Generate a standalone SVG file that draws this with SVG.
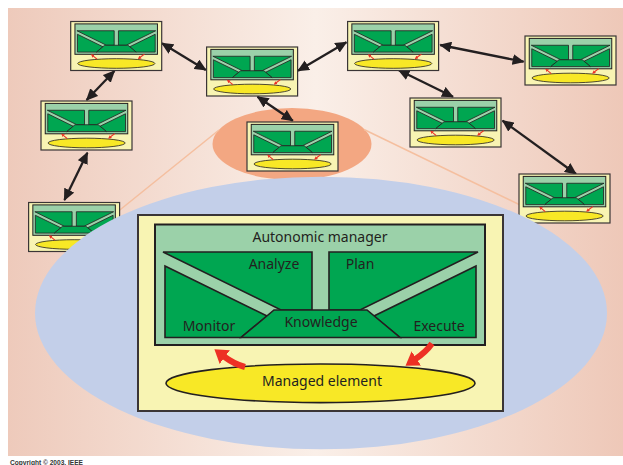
<svg xmlns="http://www.w3.org/2000/svg" width="623" height="465" viewBox="0 0 623 465">
<style>
.frame{fill:#f8f4b3;stroke:#3a3536;stroke-width:1.2}
.mgr{fill:#9bd1a9;stroke:#231f20;stroke-width:1}
.part{fill:#00a651;stroke:#231f20;stroke-width:0.8}
.me{fill:#f8e826;stroke:#231f20;stroke-width:0.8}
.rs{fill:none;stroke:#ed3024;stroke-width:1.1}
.big .frame{stroke-width:2}
.big .mgr{stroke-width:2}
.big .part{stroke-width:1.6}
.big .me{stroke-width:1.6}
.conn{fill:none;stroke:#231f20;stroke-width:2.3;marker-start:url(#ah);marker-end:url(#ah)}
.red{fill:none;stroke:#ed3024;stroke-width:6;marker-end:url(#rh)}
.lbl{font-family:"Noto Sans","Liberation Sans",sans-serif;font-size:14px;fill:#231f20;text-anchor:middle}
.zoom{stroke:#f5bf9f;stroke-width:1.5;fill:none}
</style>
<defs>
<linearGradient id="bg" x1="0" y1="0" x2="1" y2="0">
<stop offset="0" stop-color="#eecabb"/>
<stop offset="0.5" stop-color="#faefe8"/>
<stop offset="1" stop-color="#eec8b8"/>
</linearGradient>
<marker id="ah" viewBox="0 0 12 11" refX="11" refY="5.5" markerWidth="12" markerHeight="11" markerUnits="userSpaceOnUse" orient="auto-start-reverse"><path d="M0,0 L12,5.5 L0,11 z" fill="#231f20"/></marker>
<marker id="rh" viewBox="0 0 13 17" refX="1" refY="8.5" markerWidth="13" markerHeight="17" markerUnits="userSpaceOnUse" orient="auto"><path d="M0,0 L13,8.5 L0,17 z" fill="#ed3024"/></marker>
<marker id="rhs" viewBox="0 0 4 4" refX="0.5" refY="2" markerWidth="3.5" markerHeight="3.5" markerUnits="userSpaceOnUse" orient="auto"><path d="M0,0 L4,2 L0,4 z" fill="#ed3024"/></marker>
<g id="mini">
<rect x="0" y="0" width="91" height="49" class="frame"/>
<rect x="4.25" y="2.4" width="82.5" height="30.4" class="mgr"/>
<polygon points="6.25,9.25 43.5,9.25 43.5,23.75 35.75,23.75" class="part"/>
<polygon points="47.75,9.25 85,9.25 55.5,23.75 47.75,23.75" class="part"/>
<polygon points="6.75,12.75 32.25,25.25 25.75,30.6 6.75,30.6" class="part"/>
<polygon points="84.5,12.75 59,25.25 65.5,30.6 84.5,30.6" class="part"/>
<polygon points="34,23.75 57.25,23.75 65.5,30.6 25.75,30.6" class="part"/>
<ellipse cx="45.6" cy="42" rx="38.6" ry="4.8" class="me"/>
<path d="M26.3,37.6 L22.6,34.6" class="rs" marker-end="url(#rhs)"/>
<path d="M73.8,32.6 L69.5,35.8" class="rs" marker-end="url(#rhs)"/>
</g>
</defs>

<rect x="8" y="8" width="615" height="448" fill="url(#bg)"/>

<ellipse cx="292" cy="144" rx="79.5" ry="36" fill="#f3a782"/>
<g id="zoom-lines">
<line x1="219" y1="130" x2="95" y2="230" class="zoom"/>
<line x1="364" y1="129.5" x2="545" y2="217" class="zoom"/>
</g>

<g id="connectors">
<line x1="162" y1="43.3" x2="205.8" y2="70" class="conn"/>
<line x1="114.4" y1="71" x2="86.6" y2="100" class="conn"/>
<line x1="87.4" y1="152.7" x2="64.4" y2="200" class="conn"/>
<line x1="298" y1="70.7" x2="346.4" y2="42.3" class="conn"/>
<line x1="257.5" y1="96.7" x2="292.8" y2="120.7" class="conn"/>
<line x1="440.2" y1="45" x2="523.6" y2="61.7" class="conn"/>
<line x1="398.5" y1="70" x2="453" y2="96.7" class="conn"/>
<line x1="502.6" y1="120.7" x2="576" y2="174" class="conn"/>
</g>

<g id="node1" transform="translate(70.7,21.5)"><use href="#mini"/></g>
<g id="node2" transform="translate(206.6,47)"><use href="#mini"/></g>
<g id="node3" transform="translate(347.6,21.5)"><use href="#mini"/></g>
<g id="node4" transform="translate(525,36)"><use href="#mini"/></g>
<g id="node5" transform="translate(41,101)"><use href="#mini"/></g>
<g id="node6" transform="translate(247,122)"><use href="#mini"/></g>
<g id="node7" transform="translate(410,98)"><use href="#mini"/></g>
<g id="node8" transform="translate(519,174)"><use href="#mini"/></g>
<g id="node9" transform="translate(28.6,202.5)"><use href="#mini"/></g>

<ellipse cx="321" cy="313" rx="286" ry="136.3" fill="#c3cfe9"/>

<g id="autonomic-element" class="big">
<rect x="138" y="215" width="365" height="196" class="frame"/>
<g id="autonomic-manager">
<rect x="155" y="224.5" width="330" height="120.5" class="mgr"/>
<polygon points="163,252 312,252 312,310 281,310" class="part"/>
<polygon points="329,252 478,252 360,310 329,310" class="part"/>
<polygon points="165,266 267,316 241,337.5 165,337.5" class="part"/>
<polygon points="476,266 374,316 400,337.5 476,337.5" class="part"/>
<polygon points="274,310 367,310 400,337.5 241,337.5" class="part"/>
<text x="320" y="242" class="lbl">Autonomic manager</text>
<text x="274" y="268.5" class="lbl">Analyze</text>
<text x="360" y="268.5" class="lbl">Plan</text>
<text x="209" y="331" class="lbl">Monitor</text>
<text x="321" y="327" class="lbl">Knowledge</text>
<text x="439" y="331" class="lbl">Execute</text>
</g>
<g id="managed-element">
<ellipse cx="320.5" cy="383.3" rx="154.5" ry="19.3" class="me"/>
<text x="322" y="386" class="lbl">Managed element</text>
</g>
<path d="M245,367 Q234,364 224,356.5" class="red"/>
<path d="M432,343.5 Q426,352 415.5,359" class="red"/>
</g>

<text x="10" y="465" font-family="Liberation Sans, Arial, sans-serif" font-size="6.6" font-weight="bold" fill="#333">Copyright © 2003, IEEE</text>
</svg>
